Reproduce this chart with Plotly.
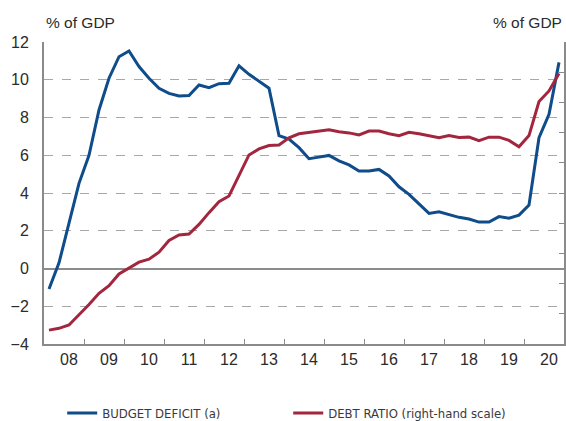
import plotly.graph_objects as go

# Quarterly data, 2008Q1 - 2020Q4
years = list(range(2008, 2021))
quarters = [y + (q + 0.5) / 4 for y in years for q in range(4)]

budget_deficit = [
    -1.09, 0.30, 2.40, 4.51,
    6.00, 8.40, 10.08, 11.22,
    11.52, 10.70, 10.08, 9.55,
    9.28, 9.14, 9.16, 9.72,
    9.58, 9.79, 9.81, 10.74,
    10.29, 9.93, 9.55, 7.04,
    6.86, 6.40, 5.82, 5.90,
    5.99, 5.70, 5.49, 5.17,
    5.17, 5.25, 4.90, 4.33,
    3.93, 3.42, 2.92, 3.01,
    2.87, 2.71, 2.62, 2.46,
    2.46, 2.75, 2.66, 2.83,
    3.36, 6.93, 8.17, 10.92,
]

debt_ratio = [
    34.6, 35.2, 36.3, 39.6,
    43.1, 46.8, 49.3, 53.2,
    55.1, 57.1, 58.1, 60.4,
    64.3, 66.1, 66.4, 69.6,
    73.5, 77.1, 79.0, 85.9,
    92.6, 94.6, 95.7, 95.9,
    98.3, 99.6, 100.1, 100.6,
    100.9, 100.3, 99.9, 99.2,
    100.5, 100.5, 99.6, 99.0,
    100.1, 99.6, 98.9, 98.3,
    99.0, 98.4, 98.5, 97.3,
    98.5, 98.5, 97.4, 95.3,
    99.0, 110.3, 113.8, 119.6,
]

year_labels = ["08", "09", "10", "11", "12", "13", "14", "15", "16", "17", "18", "19", "20"]
label_pos = [y + 0.625 for y in years]
boundary_ticks = list(range(2009, 2021))

BLUE = "#0E4C8A"
RED = "#A3263F"
GRID = "#A8A8A8"
AXIS = "#8A8A8A"
TEXT = "#2B2B2B"
FONT = "Liberation Sans, Arial, Helvetica, sans-serif"
NARROW = "Liberation Sans Narrow, DejaVu Sans Condensed, Arial Narrow, Liberation Sans, sans-serif"

fig = go.Figure()
fig.add_trace(go.Scatter(
    x=quarters, y=budget_deficit, mode="lines", name="BUDGET DEFICIT (a)",
    line=dict(color=BLUE, width=3), yaxis="y",
))
fig.add_trace(go.Scatter(
    x=quarters, y=debt_ratio, mode="lines", name="DEBT RATIO (right-hand scale)",
    line=dict(color=RED, width=3), yaxis="y2",
))

fig.update_layout(
    width=566, height=421,
    margin=dict(l=44, r=2, t=42, b=77),
    paper_bgcolor="white", plot_bgcolor="white",
    font=dict(family=FONT, size=16, color=TEXT),
    xaxis=dict(
        range=[2008, 2021],
        tickmode="array", tickvals=label_pos, ticktext=year_labels,
        ticks="", showgrid=False, zeroline=False,
        showline=True, linecolor=AXIS, linewidth=2,
        tickfont=dict(size=16, color=TEXT),
        minor=dict(tickmode="array", tickvals=boundary_ticks, ticks="inside",
                   ticklen=5, tickcolor=AXIS, tickwidth=1, showgrid=False),
        fixedrange=True,
    ),
    yaxis=dict(
        range=[-4, 12], dtick=2, tick0=0,
        showgrid=True, gridcolor=GRID, griddash="dash", gridwidth=1,
        zeroline=True, zerolinecolor="#8C8C8C", zerolinewidth=1.5,
        showline=True, linecolor=AXIS, linewidth=2,
        ticks="", ticklabelstandoff=10,
        tickfont=dict(size=16, color=TEXT),
    ),
    yaxis2=dict(
        range=[30, 130], dtick=10, tick0=30,
        overlaying="y", side="right",
        showgrid=False, zeroline=False,
        showline=True, linecolor=AXIS, linewidth=2,
        ticks="inside", ticklen=5, tickcolor=AXIS, tickwidth=1,
        showticklabels=False,
    ),
    legend=dict(
        orientation="h", x=0.035, xanchor="left",
        yref="container", y=0.019, yanchor="middle",
        entrywidth=181, entrywidthmode="pixels",
        font=dict(family=NARROW, size=13, color="#3A3A3A"),
        bgcolor="rgba(0,0,0,0)", itemclick=False,
    ),
    annotations=[
        dict(text="% of GDP", xref="paper", yref="paper", x=0, y=1.066,
             xanchor="left", yanchor="middle", showarrow=False,
             font=dict(size=15.5, color=TEXT)),
        dict(text="% of GDP", xref="paper", yref="paper", x=1, y=1.066,
             xanchor="right", yanchor="middle", showarrow=False,
             font=dict(size=15.5, color=TEXT)),
    ],
)

fig.write_html("out.html", config={"displayModeBar": False},
               post_script="document.body.style.margin='0';")
